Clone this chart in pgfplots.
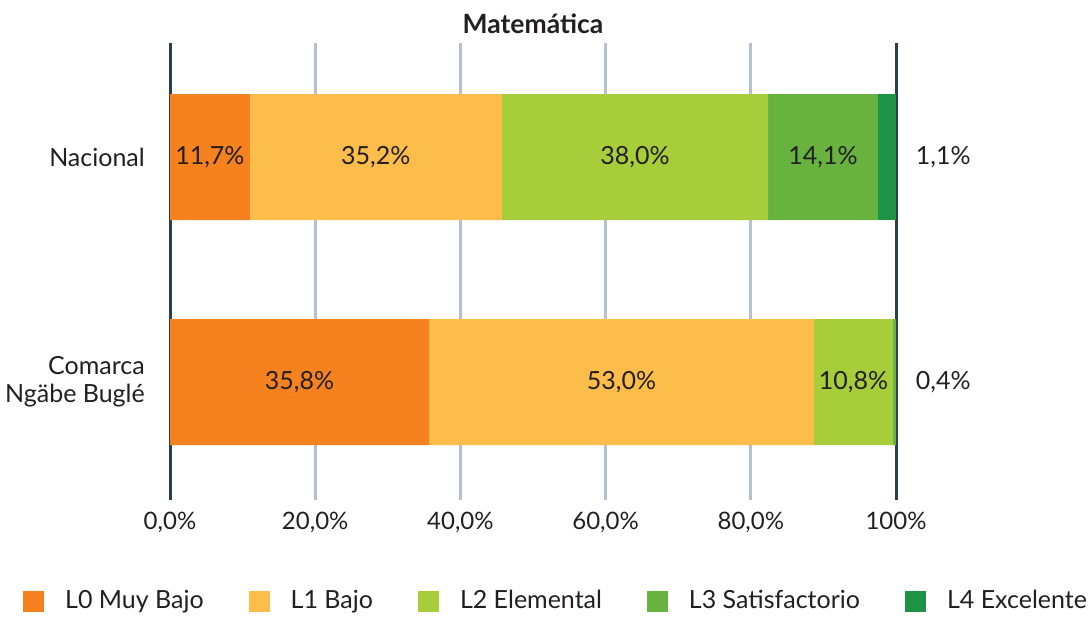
\documentclass[border=0pt]{standalone}
\usepackage{pgfplots}
\pgfplotsset{compat=1.18}
\usepackage{fontspec}
\setmainfont{Lato}
\definecolor{cL0}{HTML}{F6821F}
\definecolor{cL1}{HTML}{FCBD4B}
\definecolor{cL2}{HTML}{A7CD3A}
\definecolor{cL3}{HTML}{68B23F}
\definecolor{cL4}{HTML}{1E9245}
\definecolor{gridc}{HTML}{B7BFD4}
\definecolor{axc}{HTML}{2B3E4F}
\definecolor{txt}{HTML}{231F20}
\begin{document}
\fontsize{25}{28}\selectfont
\begin{tikzpicture}
\useasboundingbox (0,0) rectangle (1089pt,616pt);
\begin{axis}[
 at={(170pt,116pt)}, anchor=south west,
 scale only axis, width=726pt, height=457pt,
 xbar stacked, bar width=126pt,
 xmin=0, xmax=100, ymin=-0.507, ymax=1.524, y dir=reverse,
 clip=false,
 ytick={0,1}, yticklabels={Nacional, {Comarca\\Ngäbe Buglé}},
 yticklabel style={align=right, inner sep=0pt, xshift=-25pt, font=\fontsize{25}{28}\selectfont, text=txt},
 xtick={0,20,40,60,80,100},
 xticklabels={{0,0\%},{20,0\%},{40,0\%},{60,0\%},{80,0\%},{100\%}},
 xticklabel style={inner sep=0pt, anchor=north, yshift=-12pt, font=\fontsize{24}{28}\selectfont, text=txt},
 major tick length=0,
 axis line style={draw=none},
 xmajorgrids, grid style={color=gridc, line width=3pt},
 title={\bfseries Matemática},
 title style={at={(0.5,1)}, anchor=base, yshift=4pt, font=\fontsize{26.5}{28}\selectfont, text=txt},
 nodes near coords, point meta=explicit symbolic,
 every node near coord/.append style={font=\fontsize{25}{28}\selectfont, text=txt},
 legend columns=5,
 legend image code/.code={\fill[#1,draw=none] (0pt,-10.5pt) rectangle (21pt,10.5pt);},
 legend style={draw=none, fill=none, at={(axis description cs:0,0)}, anchor=west,
   xshift=-150pt, yshift=-101pt, font=\fontsize{25}{28}\selectfont, text=txt,
   nodes={inner sep=0pt},
   /tikz/every odd column/.append style={column sep=21pt},
   /tikz/every even column/.append style={column sep=45pt}},
]
\addplot[fill=cL0, draw=none] coordinates {(11.0,0) [11,7\%] (35.7,1) [35,8\%]};
\addplot[fill=cL1, draw=none] coordinates {(34.7,0) [35,2\%] (53.0,1) [53,0\%]};
\addplot[fill=cL2, draw=none] coordinates {(36.7,0) [38,0\%] (10.9,1) [10,8\%]};
\addplot[fill=cL3, draw=none] coordinates {(15.1,0) [14,1\%] (0.4,1) [{}]};
\addplot[fill=cL4, draw=none] coordinates {(2.5,0) [{}] (0,1) [{}]};
\legend{L0 Muy Bajo, L1 Bajo, L2 Elemental, L3 Satisfactorio, L4 Excelente}
\draw[axc, line width=3pt] (axis cs:0,-0.507) -- (axis cs:0,1.524);
\draw[axc, line width=3pt] (axis cs:100,-0.507) -- (axis cs:100,1.524);
\node[text=txt] at (axis cs:106.5,0) {1,1\%};
\node[text=txt] at (axis cs:106.5,1) {0,4\%};
\end{axis}
\end{tikzpicture}
\end{document}
